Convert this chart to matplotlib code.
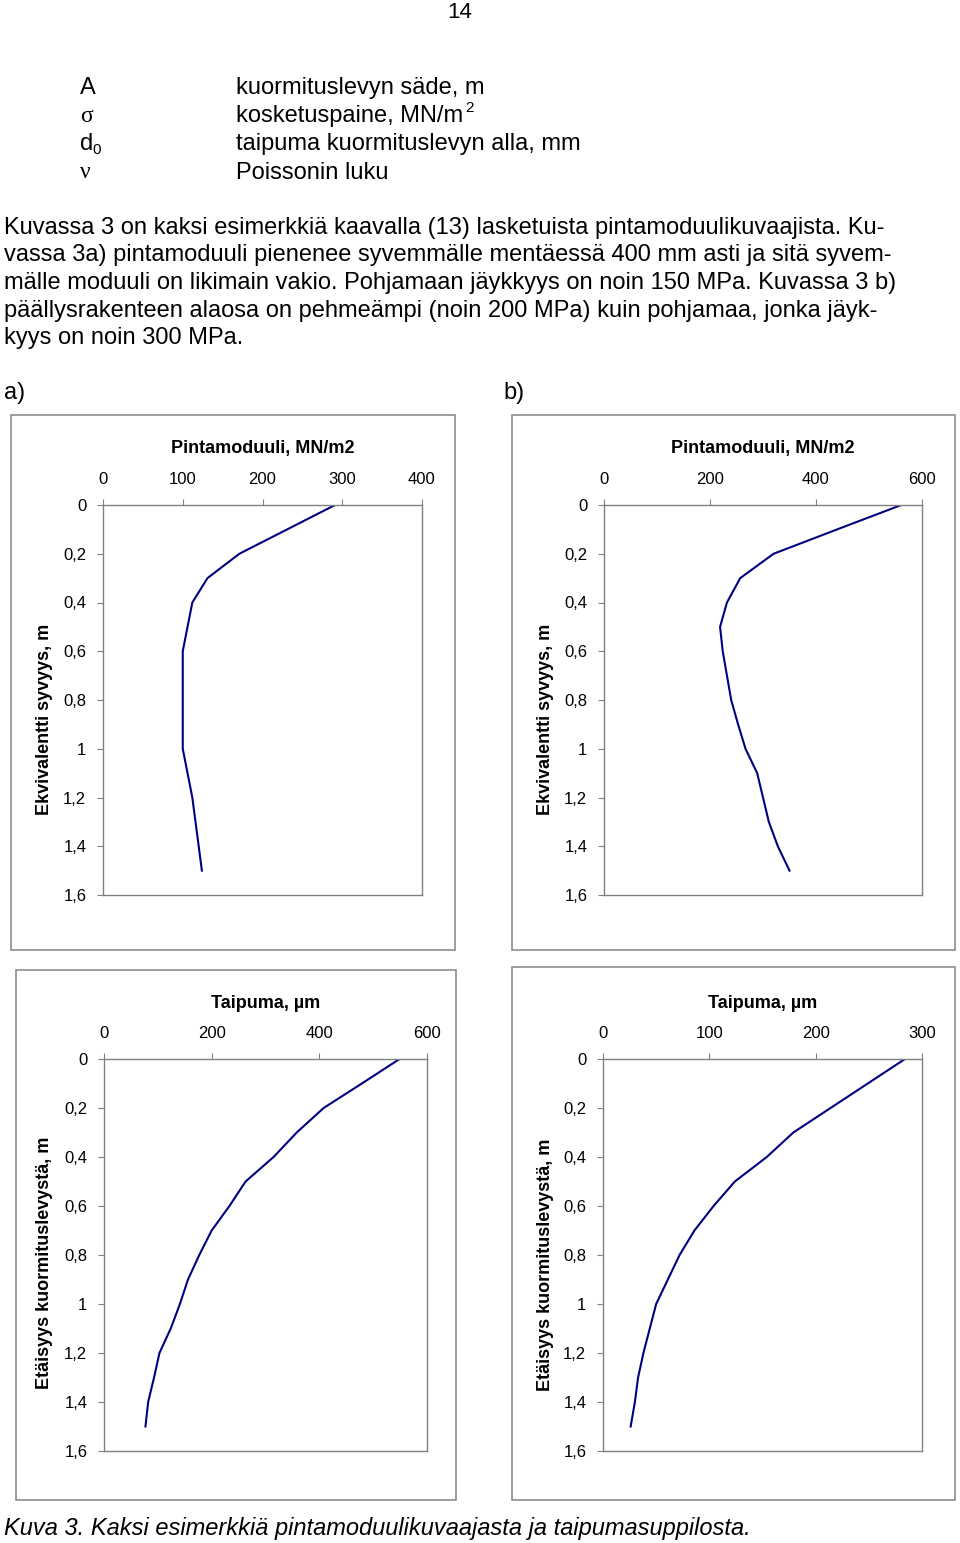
import numpy as np
import matplotlib as mpl
mpl.use('Agg')
from matplotlib import pyplot as plt
from matplotlib.patches import Rectangle

W, H = 960, 1543

# depth points (m), common to all four curves
depth = [0.0, 0.1, 0.2, 0.3, 0.4, 0.5, 0.6, 0.7, 0.8, 0.9, 1.0, 1.1, 1.2, 1.3, 1.4, 1.5]

# a) surface modulus, MN/m2
modulus_a = [291, 231, 171, 131, 112, 106, 100, 100, 100, 100, 100, 106, 112, 116, 120, 124]
# b) surface modulus, MN/m2
modulus_b = [561, 440, 320, 257, 232, 219, 224, 232, 240, 253, 267, 289, 300, 311, 328, 350]
# a) deflection, um
deflect_a = [549, 479, 408, 358, 315, 263, 233, 200, 177, 156, 141, 124, 103, 93, 82, 77]
# b) deflection, um
deflect_b = [284, 249, 214, 179, 154, 124, 104, 86, 72, 61, 50, 44, 38, 33, 30, 26]

ytick_vals = [0, 0.2, 0.4, 0.6, 0.8, 1.0, 1.2, 1.4, 1.6]
ytick_labels = ["0", "0,2", "0,4", "0,6", "0,8", "1", "1,2", "1,4", "1,6"]

paragraph = [
    "Kuvassa 3 on kaksi esimerkkiä kaavalla (13) lasketuista pintamoduulikuvaajista. Ku-",
    "vassa 3a) pintamoduuli pienenee syvemmälle mentäessä 400 mm asti ja sitä syvem-",
    "mälle moduuli on likimain vakio. Pohjamaan jäykkyys on noin 150 MPa. Kuvassa 3 b)",
    "päällysrakenteen alaosa on pehmeämpi (noin 200 MPa) kuin pohjamaa, jonka jäyk-",
    "kyys on noin 300 MPa.",
]

plt.rcParams['font.family'] = ['Liberation Sans', 'DejaVu Sans']

fig = plt.figure(figsize=(W / 100, H / 100), dpi=100)


def px(x, y):
    return x / W, 1 - y / H


def text(x, y, s, size=17, **kw):
    fx, fy = px(x, y)
    fig.text(fx, fy, s, fontsize=size, **kw)


# page number
text(460, 12, "14", 16, ha='center', va='center')

# symbol list
sym_y = [88, 116, 144, 173]
text(80, sym_y[0], "A", 17, va='center')
text(80, sym_y[1], "σ", 17, va='center', family=['Liberation Serif'])
text(80, sym_y[2], "d", 17, va='center')
text(92, sym_y[2] + 6, "0", 11, va='center')
text(80, sym_y[3], "ν", 17, va='center', family=['Liberation Serif'])
text(236, sym_y[0], "kuormituslevyn säde, m", 17, va='center')
text(236, sym_y[1], "kosketuspaine, MN/m", 17, va='center')
text(465, sym_y[1] - 8, "2", 11, va='center')
text(236, sym_y[2], "taipuma kuormituslevyn alla, mm", 17, va='center')
text(236, sym_y[3], "Poissonin luku", 17, va='center')

for i, line in enumerate(paragraph):
    text(4, 228 + i * 27.5, line, 17, va='center')

text(4, 393, "a)", 17, va='center')
text(503, 393, "b)", 17, va='center')

# chart frames (x0, y0, x1, y1) in pixels
frames = [(11, 415, 455, 950), (512, 415, 955, 950), (16, 970, 456, 1500), (512, 967, 955, 1500)]
for x0, y0, x1, y1 in frames:
    fx, fy = px(x0, y1)
    fig.patches.append(Rectangle((fx, fy), (x1 - x0) / W, (y1 - y0) / H, transform=fig.transFigure,
                                 fill=False, edgecolor='#8c8c8c', linewidth=1.2))

charts = [
    # plot area px, x data, xmax, xstep, title, ylabel, ylabel position
    ((103, 505, 422, 895), modulus_a, 400, 100, "Pintamoduuli, MN/m2", "Ekvivalentti syvyys, m", 45, 719),
    ((604, 505, 922, 895), modulus_b, 600, 200, "Pintamoduuli, MN/m2", "Ekvivalentti syvyys, m", 545, 719),
    ((104, 1059, 427, 1451), deflect_a, 600, 200, "Taipuma, µm", "Etäisyys kuormituslevystä, m", 45, 1263),
    ((603, 1059, 922, 1451), deflect_b, 300, 100, "Taipuma, µm", "Etäisyys kuormituslevystä, m", 545, 1265),
]

for (x0, y0, x1, y1), xs, xmax, xstep, title, ylab, ylx, yly in charts:
    fx, fy = px(x0, y1)
    ax = fig.add_axes([fx, fy, (x1 - x0) / W, (y1 - y0) / H])
    ax.plot(xs, depth, color='#000080', linewidth=1.5)
    ax.set_xlim(0, xmax)
    ax.set_ylim(1.6, 0)
    ax.set_xticks(np.arange(0, xmax + 1, xstep))
    ax.set_yticks(ytick_vals)
    ax.set_yticklabels(ytick_labels)
    ax.xaxis.tick_top()
    ax.tick_params(axis='x', direction='out', length=4, pad=9, labelsize=12, color='#808080')
    ax.tick_params(axis='y', direction='out', length=4, pad=8, labelsize=12, color='#808080')
    for sp in ax.spines.values():
        sp.set_color('#808080')
        sp.set_linewidth(1.0)
    text((x0 + x1) / 2, y0 - 56, title, 13, ha='center', va='center', weight='bold')
    text(ylx, yly, ylab, 13, ha='center', va='center', weight='bold', rotation=90)

text(4, 1528, "Kuva 3. Kaksi esimerkkiä pintamoduulikuvaajasta ja taipumasuppilosta.", 17,
     va='center', style='italic')

fig.savefig('out.png', dpi=100)
